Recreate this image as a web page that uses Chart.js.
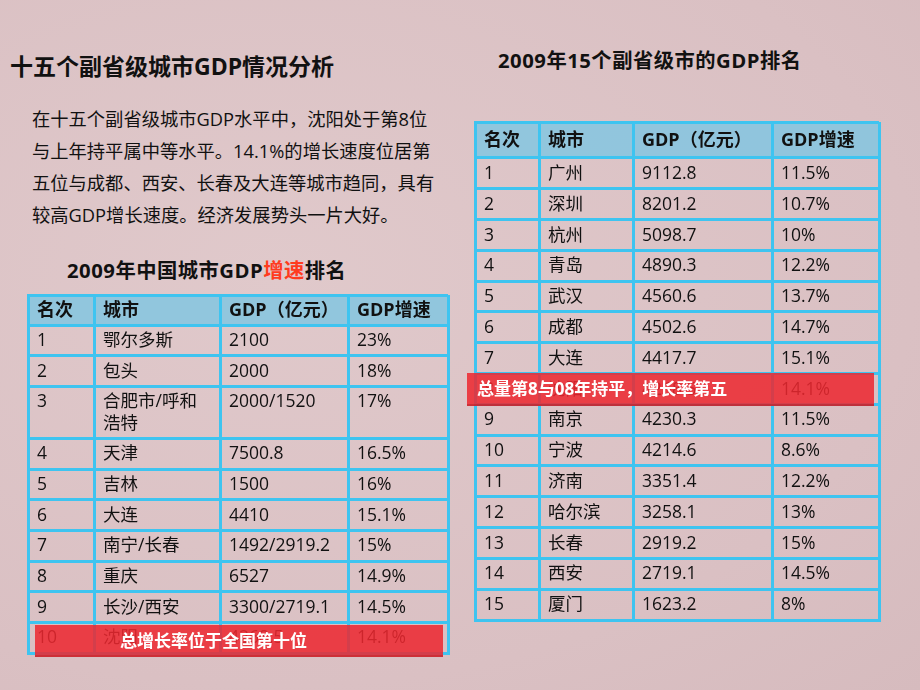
<!DOCTYPE html>
<html>
<head>
<meta charset="utf-8">
<script src="https://cdn.jsdelivr.net/npm/chart.js@4.4.1/dist/chart.umd.min.js"></script>
<style>
  body { margin: 0; background: #dcc4c6; }
  #slide {
    position: relative; width: 920px; height: 690px; overflow: hidden;
    background: radial-gradient(ellipse at 30% 40%, #e0c9cb 0%, #dac0c3 70%, #d6bbbe 100%);
    font-family: "Open Sans", "Noto Sans CJK SC", sans-serif; color: #111;
  }
  .title { position: absolute; left: 10px; top: 49px; font-size: 23px; font-weight: bold; line-height: 34px; white-space: nowrap; }
  .para { position: absolute; left: 32px; top: 103px; font-size: 18.3px; line-height: 32px; white-space: nowrap; }
  .sub { position: absolute; font-size: 20.3px; font-weight: bold; line-height: 26px; white-space: nowrap; letter-spacing: 0.5px; }
  .sub .hot { color: #ff3b1e; }
  canvas { position: absolute; }
  .flag {
    position: absolute; background: rgba(236, 40, 48, 0.86); color: #fff;
    font-weight: bold; font-size: 17px; line-height: 32px; white-space: nowrap;
    box-shadow: inset 0 -2px 0 rgba(150, 20, 30, 0.35);
  }
</style>
</head>
<body>
<div id="slide">
  <div class="title">十五个副省级城市GDP情况分析</div>
  <div class="para">在十五个副省级城市GDP水平中，沈阳处于第8位<br>与上年持平属中等水平。14.1%的增长速度位居第<br>五位与成都、西安、长春及大连等城市趋同，具有<br>较高GDP增长速度。经济发展势头一片大好。</div>
  <div class="sub" style="left:67px; top:257px;">2009年中国城市GDP<span class="hot">增速</span>排名</div>
  <div class="sub" style="left:498px; top:47px;">2009年15个副省级市的GDP排名</div>
  <canvas id="growthTable" width="424" height="362" style="left:26px; top:293px;"></canvas>
  <canvas id="gdpTable" width="408" height="502" style="left:473px; top:120px;"></canvas>
  <div class="flag" style="left:35px; top:625px; width:408px; height:32px; padding-left:85px; box-sizing:border-box;">总增长率位于全国第十位</div>
  <div class="flag" style="left:467px; top:373px; width:407px; height:33px; padding-left:10px; box-sizing:border-box;">总量第8与08年持平，增长率第五</div>
</div>

<script>
// column headers shared by both tables
const headers = ['名次', '城市', 'GDP（亿元）', 'GDP增速'];

// 2009 China city GDP growth ranking
const growthRanks = ['1', '2', '3', '4', '5', '6', '7', '8', '9', '10'];
const growthCities = ['鄂尔多斯', '包头', '合肥市/呼和浩特', '天津', '吉林', '大连', '南宁/长春', '重庆', '长沙/西安', '沈阳'];
const growthGdp = ['2100', '2000', '2000/1520', '7500.8', '1500', '4410', '1492/2919.2', '6527', '3300/2719.1', '4268.5'];
const growthRates = ['23%', '18%', '17%', '16.5%', '16%', '15.1%', '15%', '14.9%', '14.5%', '14.1%'];

// 2009 GDP ranking of the 15 sub-provincial cities
const gdpRanks = ['1', '2', '3', '4', '5', '6', '7', '8', '9', '10', '11', '12', '13', '14', '15'];
const gdpCities = ['广州', '深圳', '杭州', '青岛', '武汉', '成都', '大连', '沈阳', '南京', '宁波', '济南', '哈尔滨', '长春', '西安', '厦门'];
const gdpValues = ['9112.8', '8201.2', '5098.7', '4890.3', '4560.6', '4502.6', '4417.7', '4268.5', '4230.3', '4214.6', '3351.4', '3258.1', '2919.2', '2719.1', '1623.2'];
const gdpRates = ['11.5%', '10.7%', '10%', '12.2%', '13.7%', '14.7%', '15.1%', '14.1%', '11.5%', '8.6%', '12.2%', '13%', '15%', '14.5%', '8%'];

const FONT = '"Open Sans", "Noto Sans CJK SC", sans-serif';
const LINE_COLOR = '#3ec4f0';
const HEAD_FILL = 'rgba(138, 198, 222, 0.92)';

// break a cell string into lines that fit the column
function wrapText(ctx, text, maxW) {
    const lines = [];
    let cur = '';
    for (const ch of text) {
        if (cur && ctx.measureText(cur + ch).width > maxW) {
            lines.push(cur);
            cur = ch;
        } else {
            cur += ch;
        }
    }
    if (cur) lines.push(cur);
    return lines;
}

function makeTable(canvasId, cols, rows, opts) {
    const canvas = document.getElementById(canvasId);
    const ctx = canvas.getContext('2d');
    const colEdges = [0];
    opts.colWidths.forEach(w => colEdges.push(colEdges[colEdges.length - 1] + w));

    // row heights follow the number of wrapped lines in each row
    ctx.font = '17.5px ' + FONT;
    const rowLines = rows.map(r => r.map((v, c) => wrapText(ctx, v, opts.colWidths[c] - 16)));
    const rowEdges = [0, opts.headH];
    rowLines.forEach(r => {
        const n = Math.max(...r.map(l => l.length));
        rowEdges.push(rowEdges[rowEdges.length - 1] + opts.rowH + (n - 1) * 21.5);
    });
    const total = rowEdges[rowEdges.length - 1];

    const cellText = {
        id: 'cellText',
        beforeDraw(chart) {
            const { ctx, scales: { x, y } } = chart;
            ctx.save();
            ctx.fillStyle = HEAD_FILL;
            ctx.fillRect(x.getPixelForValue(0), y.getPixelForValue(0),
                x.getPixelForValue(colEdges[colEdges.length - 1]) - x.getPixelForValue(0),
                y.getPixelForValue(opts.headH) - y.getPixelForValue(0));
            ctx.restore();
        },
        afterDatasetsDraw(chart) {
            const { ctx, scales: { x, y } } = chart;
            ctx.save();
            ctx.fillStyle = '#111';
            ctx.textBaseline = 'middle';
            ctx.font = 'bold 18px ' + FONT;
            cols.forEach((h, c) => {
                ctx.fillText(h, x.getPixelForValue(colEdges[c]) + 9, y.getPixelForValue(opts.headH / 2) + 1);
            });
            ctx.font = '17.5px ' + FONT;
            chart.getDatasetMeta(0).data.forEach((pt, i) => {
                rowLines[i].forEach((lines, c) => {
                    lines.forEach((ln, k) => {
                        ctx.fillText(ln, x.getPixelForValue(colEdges[c]) + 9, pt.y + 16 + k * 21.5);
                    });
                });
            });
            ctx.restore();
        }
    };

    const axisStyle = {
        display: true,
        ticks: { display: false },
        grid: { color: LINE_COLOR, lineWidth: 3, drawTicks: false },
        border: { display: true, color: LINE_COLOR, width: 3 }
    };

    return new Chart(ctx, {
        type: 'scatter',
        data: {
            datasets: [{
                data: rows.map((r, i) => ({ x: 0, y: rowEdges[i + 1] })),
                pointRadius: 0
            }]
        },
        options: {
            responsive: false,
            animation: false,
            events: [],
            layout: { padding: 2 },
            plugins: { legend: { display: false }, tooltip: { enabled: false } },
            scales: {
                x: Object.assign({}, axisStyle, {
                    type: 'linear', min: 0, max: colEdges[colEdges.length - 1],
                    afterBuildTicks: s => { s.ticks = colEdges.map(v => ({ value: v })); }
                }),
                y: Object.assign({}, axisStyle, {
                    type: 'linear', reverse: true, min: 0, max: total,
                    afterBuildTicks: s => { s.ticks = rowEdges.map(v => ({ value: v })); }
                })
            }
        },
        plugins: [cellText]
    });
}

const zip = (a, b, c, d) => a.map((v, i) => [v, b[i], c[i], d[i]]);

makeTable('growthTable', headers, zip(growthRanks, growthCities, growthGdp, growthRates),
    { colWidths: [66, 126, 128, 100], headH: 30, rowH: 30.6 });
makeTable('gdpTable', headers, zip(gdpRanks, gdpCities, gdpValues, gdpRates),
    { colWidths: [64, 94, 139, 107], headH: 36, rowH: 30.8 });
</script>
</body>
</html>
